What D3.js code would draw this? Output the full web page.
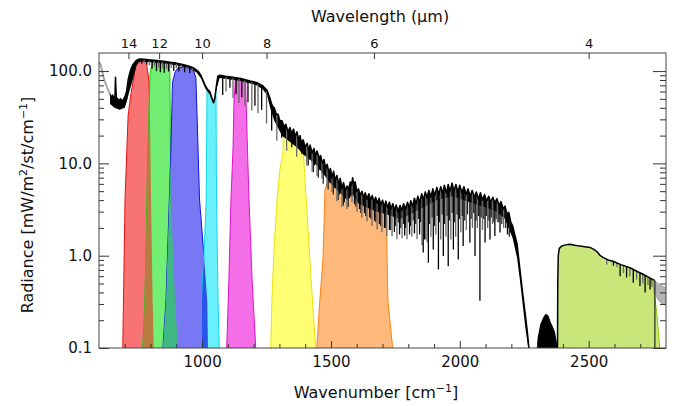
<!DOCTYPE html>
<html>
<head>
<meta charset="utf-8">
<script src="https://cdn.jsdelivr.net/npm/d3@7"></script>
<style>
  body { margin: 0; background: #fff; }
  svg text { font-family: "DejaVu Sans", sans-serif; fill: #111; }
</style>
</head>
<body>
<svg id="chart" width="679" height="406"></svg>
<script>
// spectrum, [wavenumber cm-1, radiance mW/m2/st/cm-1]
const specTop = [
  [643,56],[648,52],[653,55],[658,50],[662,54],[664,86],[667,52],[672,50],[678,48],[684,50],
  [690,47],[696,50],[702,54],[707,60],[713,80],[718,92],[724,105],[730,115],[736,122],[742,128],
  [750,133],[758,135],[775,134],[800,132],[825,130],[850,128],[875,125],[900,122],[925,118],[950,113],
  [965,109],[978,103],[988,97],[996,89],[1004,79],[1012,70],[1020,64],[1030,60],[1037,52],[1043,47],
  [1049,50],[1055,68],[1061,88],[1068,90],[1090,88],[1120,86],[1150,83],[1186,78],[1213,75],[1236,69],
  [1252,62],[1264,50],[1272,42],[1280,40],[1288,34],[1295,34],[1302,29],[1310,29],[1318,25],[1325,26.5],
  [1333,22],[1341,24.5],[1348,21],[1355,23.5],[1362,19.5],[1368,22],[1375,18],[1380,20],[1386,16.5],[1392,18],
  [1400,15],[1408,16.5],[1414,13.5],[1419,15.8],[1427,13],[1434,14.5],[1440,12],[1446,13.6],[1454,11.5],[1460,12.2],
  [1467,10],[1473,11],[1479,8.8],[1485,9.8],[1492,8.0],[1498,8.8],[1504,7.0],[1510,8.2],[1517,6.5],[1523,7.4],
  [1530,6.0],[1536,6.9],[1543,5.3],[1549,6.2],[1556,5.0],[1562,5.7],[1568,5.2],[1575,6.3],[1580,5.8],[1584,7.0],
  [1588,6.0],[1594,6.3],[1600,5.0],[1607,5.3],[1613,4.5],[1620,5.0],[1627,4.3],[1633,4.8],[1640,4.1],[1647,4.7],
  [1653,4.0],[1660,4.5],[1667,3.8],[1673,4.3],[1680,3.7],[1687,4.2],[1693,3.5],[1700,4.0],[1707,3.4],[1713,3.9],
  [1720,3.3],[1727,3.8],[1733,3.2],[1740,3.65],[1747,3.1],[1753,3.55],[1760,3.0],[1768,3.5],[1775,3.1],[1782,3.65],
  [1790,3.2],[1797,3.8],[1804,3.3],[1810,3.95],[1817,3.4],[1824,4.2],[1830,3.6],[1837,4.4],[1845,3.8],[1852,4.7],
  [1859,4.0],[1866,4.9],[1873,4.2],[1880,5.1],[1888,4.3],[1895,5.3],[1903,4.5],[1911,5.5],[1918,4.6],[1926,5.6],
  [1933,4.7],[1940,5.8],[1948,4.8],[1955,5.9],[1962,5.0],[1970,6.1],[1977,5.0],[1985,5.9],[1992,4.9],[2000,5.8],
  [2008,4.8],[2016,5.6],[2024,4.6],[2032,5.3],[2040,4.4],[2048,5.1],[2056,4.3],[2064,4.9],[2072,4.1],[2080,4.8],
  [2088,4.0],[2096,4.6],[2104,3.9],[2112,4.4],[2120,3.8],[2128,4.3],[2136,3.7],[2144,4.15],[2152,3.5],[2160,3.85],
  [2168,3.2],[2175,3.45],[2183,2.8],[2190,2.95],[2198,2.3],[2205,2.1],[2213,1.7],[2222,1.35],[2233,0.72],[2245,0.37],
  [2255,0.22],[2262,0.15],[2268,0.1],[2272,0.09],[2300,0.09],[2305,0.13],[2315,0.18],[2325,0.21],[2334,0.23],[2342,0.22],
  [2350,0.19],[2358,0.17],[2366,0.15],[2372,0.12],[2377,0.09],[2379,0.09],[2380,0.5],[2382,1.0],[2386,1.2],[2395,1.27],
  [2410,1.31],[2427,1.33],[2446,1.3],[2466,1.27],[2485,1.25],[2505,1.23],[2520,1.17],[2532,1.11],[2545,1.0],[2556,0.96],
  [2575,0.9],[2594,0.87],[2625,0.8],[2660,0.74],[2690,0.67],[2711,0.63],[2730,0.59],[2750,0.55],[2756,0.54]
]

// lower edge of the dense line band
const bandLow = [
  [643,44],[660,40],[680,38],[700,40],[709,48],[715,56],[722,66],[730,78],[738,95],[746,115],
  [755,125],[760,127],[800,125],[850,121],[900,116],[950,107],[978,97],[996,83],[1012,65],[1030,55],
  [1043,44],[1049,46],[1055,62],[1068,84],[1150,78],[1213,70],[1236,63],[1252,55],[1264,40],[1280,29],
  [1295,24],[1310,20],[1325,18.5],[1341,17],[1368,15],[1392,12.5],[1419,11],[1446,9.4],[1465,8.0],[1485,6.8],
  [1508,5.7],[1535,4.8],[1562,4.0],[1584,4.6],[1605,3.7],[1640,3.3],[1680,3.0],[1717,2.8],[1768,2.5],[1807,2.8],
  [1845,3.2],[1873,3.5],[1911,4.0],[1974,4.4],[2039,3.8],[2105,3.3],[2144,3.0],[2175,2.5],[2205,1.55],[2222,0.95],
  [2233,0.55],[2245,0.28],[2255,0.16],[2268,0.09],[2377,0.09]
]

// absorption lines: [wavenumber, lowest radiance]
const dipsWindow = [
  [765,120],[775,122],[785,118],[796,115],[806,106],[815,114],[823,100],[831,110],[838,97],[846,108],
  [853,96],[862,106],[870,99],[880,108],[890,100],[900,107],[910,99],[920,104],[932,97],[942,101],
  [952,95],[962,99]
]
const dipsMid = [
  [1080,55],[1093,60],[1108,66],[1120,51],[1132,56],[1143,45],[1154,52],[1166,41.5],[1178,46],[1193,37.5],
  [1205,42],[1217,35],[1231,38],[1250,27],[1270,22.7],[1290,17.6],[1309,19],[1328,13.7],[1348,15],[1367,11.8],
  [1387,12.7],[1406,9.9],[1425,10.5]
]
const dipsWater = [
  [1407,9.4],[1417,11],[1427,8.1],[1436,9.5],[1446,7.3],[1456,8.5],[1465,6.8],[1475,7.5],[1485,5.56],[1494,6.2],
  [1504,4.9],[1514,5.4],[1523,3.9],[1533,4.6],[1543,3.36],[1552,3.8],[1562,3.2],[1572,4.2],[1582,3.8],[1592,3.6],
  [1601,3.0],[1611,3.2],[1620,2.6],[1630,2.9],[1640,2.36],[1650,2.6],[1659,2.1],[1669,2.4],[1679,1.94],[1688,2.2],
  [1698,1.8],[1708,2.0],[1717,1.62],[1727,1.9],[1737,1.62],[1746,1.8],[1756,1.51],[1766,1.7],[1776,1.55],[1786,1.65],
  [1795,1.51],[1805,1.7],[1814,1.6],[1824,1.75],[1834,1.51],[1844,1.7],[1853,1.3],[1863,1.5],[1873,1.4],[1858,1.08],
  [1868,1.5],[1878,0.84],[1888,1.6],[1897,1.17],[1907,1.7],[1917,0.71],[1926,1.5],[1936,0.99],[1946,1.6],[1955,0.77],
  [1965,1.5],[1975,1.17],[1984,1.6],[1994,0.91],[2004,1.8],[2013,1.27],[2025,1.9],[2039,1.39],[2049,2.0],[2059,0.99],
  [2068,2.0],[2078,0.325],[2088,1.9],[2098,1.39],[2108,2.0],[2117,1.5],[2127,2.2],[2136,1.63],[2146,2.3],[2156,1.78],
  [2170,2.0],[2185,1.7]
]
// weaker lines that fill the band between the strong ones
const dipsWeak = [
  [1412,9.5],[1432,8.0],[1451,7.0],[1470,6.0],[1489,5.2],[1509,4.6],[1528,4.0],[1548,3.5],[1567,3.4],[1597,3.4],
  [1616,2.9],[1635,2.7],[1655,2.5],[1674,2.3],[1693,2.1],[1713,2.0],[1732,1.9],[1751,2.1],[1761,2.3],[1771,2.0],
  [1781,2.2],[1790,2.0],[1800,2.3],[1809,2.1],[1819,2.4],[1829,2.2],[1839,2.5],[1848,2.3],[1883,2.2],[1892,2.6],
  [1902,2.1],[1912,2.7],[1921,2.3],[1931,2.8],[1941,2.2],[1950,2.7],[1960,2.4],[1970,2.9],[1980,2.3],[1989,2.8],
  [1999,2.5],[2009,2.7],[2019,2.4],[2030,2.8],[2044,2.5],[2054,2.9],[2063,2.4],[2073,2.7],[2083,2.6],[2093,2.5],
  [2103,2.7],[2113,2.4],[2122,2.6],[2132,2.3],[2141,2.5],[2151,2.3],[2163,2.2],[2178,2.0],[2192,1.6]
]
const dipsShortwave = [
  [2570,0.8],[2596,0.78],[2610,0.75],[2622,0.6],[2635,0.65],[2647,0.58],[2660,0.6],[2673,0.51],[2686,0.55],[2699,0.47],
  [2710,0.5],[2719,0.4],[2730,0.48],[2738,0.43],[2745,0.46]
]

// out of band parts drawn in grey
const grayLeft = [[600,125],[606,118],[612,100],[618,85],[624,75],[630,68],[636,62],[643,56]]
const grayRightTop = [[2752,0.54],[2770,0.5],[2785,0.47],[2800,0.45]]
const grayRightLow = [[2752,0.42],[2770,0.33],[2785,0.3],[2800,0.29]]
const cutoffWn = 2757

// channel response outlines [wavenumber, radiance]
const chRed = [[692,0.09],[695,0.33],[701,4.1],[713,33],[724,57],[736,88],[745,140],[760,300],[780,300],[786,113],[794,78],[798,33],[802,4.1],[808,0.33],[813,0.09]]
const chGreen = [[769,0.09],[778,0.33],[786,4.1],[790,14.5],[798,95],[806,119],[810,300],[868,300],[872,119],[875,95],[877,14.5],[879,4.1],[895,0.33],[908,0.09]]
const chBlue = [[847,0.09],[860,0.33],[873,4.1],[879,14.5],[885,74],[895,97],[906,108],[934,111],[953,110],[968,100],[976,84],[982,24],[990,4.1],[1005,1.2],[1020,0.33],[1023,0.09]]
const chCyan = [[998,0.09],[999,0.33],[1010,1.5],[1016,4.1],[1019,60],[1023,300],[1052,300],[1054,57],[1056,4.1],[1062,0.33],[1067,0.09]]
const chMagenta = [[1095,0.09],[1104,0.55],[1112,4.1],[1120,14.5],[1124,51],[1128,69],[1132,300],[1166,300],[1170,57],[1176,14.5],[1182,4.1],[1194,0.55],[1209,0.09]]
const chYellow = [[1266,0.09],[1271,0.33],[1279,1.17],[1291,4.1],[1302,8.75],[1314,12.7],[1320,300],[1388,300],[1391,17],[1399,6.8],[1411,1.94],[1423,0.55],[1442,0.09]]
const chOrange = [[1444,0.09],[1457,0.33],[1469,0.91],[1477,5.3],[1496,7],[1500,300],[1712,300],[1714,3.6],[1721,0.33],[1741,0.09]]
const chLime = [[2379,0.09],[2379,0.9],[2381,1.17],[2389,1.3],[2404,1.38],[2410,300],[2745,300],[2750,0.49],[2765,0.23],[2777,0.09]]

const xMajor = [1000, 1500, 2000, 2500]
const xMinor = d3.range(700, 2800, 100).filter(d => !xMajor.includes(d))
const yMajor = [0.1, 1, 10, 100]
const yMinor = [0.2,0.3,0.4,0.5,0.6,0.7,0.8,0.9,2,3,4,5,6,7,8,9,20,30,40,50,60,70,80,90]
const wavelengths = [14, 12, 10, 8, 6, 4]

const channels = [
  {pts: chRed, fill: '#f87474', stroke: '#e81010'},
  {pts: chGreen, fill: '#73f073', stroke: '#10c810'},
  {pts: chBlue, fill: '#7878f5', stroke: '#1010e0'},
  {pts: chCyan, fill: '#6af0fa', stroke: '#10d8ea'},
  {pts: chMagenta, fill: '#f46ee8', stroke: '#e010c8'},
  {pts: chYellow, fill: '#ffff73', stroke: '#e8e010'},
  {pts: chOrange, fill: '#ffb97a', stroke: '#ff8010'},
  {pts: chLime, fill: '#c9e67a', stroke: '#90cc10'}
]
const overlaps = [
  [chRed, chGreen, '#b97c40'],
  [chGreen, chBlue, '#40b884'],
  [chBlue, chCyan, '#2a55e8']
]

const m = {left: 99, right: 666, top: 53, bottom: 348}
const svg = d3.select('#chart')
const defs = svg.append('defs')

const x = d3.scaleLinear().domain([600, 2800]).range([m.left, m.right])
const y = d3.scaleLog().domain([0.1, 157]).range([m.bottom, m.top])

const line = d3.line().x(d => x(d[0])).y(d => y(d[1]))

defs.append('clipPath').attr('id', 'plot')
  .append('rect')
  .attr('x', m.left).attr('y', m.top)
  .attr('width', m.right - m.left).attr('height', m.bottom - m.top)

// area under the spectrum, channels are cut to it
const underSpec = d3.area()
  .x(d => x(d[0])).y0(m.bottom + 5).y1(d => y(d[1]))
defs.append('clipPath').attr('id', 'spec')
  .append('path')
  .attr('d', underSpec(specTop.concat(grayRightTop)))

const plot = svg.append('g').attr('clip-path', 'url(#plot)')
const chLayer = plot.append('g').attr('clip-path', 'url(#spec)')

channels.forEach(c => {
  chLayer.append('path')
    .attr('d', line(c.pts) + 'Z')
    .attr('fill', c.fill)
    .attr('stroke', c.stroke)
    .attr('stroke-width', 1)
})

overlaps.forEach((o, i) => {
  defs.append('clipPath').attr('id', 'ov' + i)
    .append('path').attr('d', line(o[1]) + 'Z')
  chLayer.append('g').attr('clip-path', `url(#ov${i})`)
    .append('path')
    .attr('d', line(o[0]) + 'Z')
    .attr('fill', o[2])
})

// grey ends
plot.append('path')
  .attr('d', line(grayLeft))
  .attr('fill', 'none')
  .attr('stroke', '#a8a8a8')
  .attr('stroke-width', 2)

plot.append('path')
  .attr('d', line(grayRightTop.concat(grayRightLow.slice().reverse())) + 'Z')
  .attr('fill', '#b4b4b4')
  .attr('stroke', '#a0a0a0')
  .attr('stroke-width', 0.8)

// dense band of lines
const lo = bandLow[0][0], hi = bandLow[bandLow.length - 1][0]
const bandPoly = specTop.filter(d => d[0] >= lo && d[0] <= hi)
  .concat(bandLow.slice().reverse())
plot.append('path')
  .attr('d', line(bandPoly) + 'Z')
  .attr('fill', '#000')

// radiance of the upper envelope at a given wavenumber (log interpolation)
const bis = d3.bisector(d => d[0]).left
function topAt(wn) {
  const i = Math.max(1, Math.min(specTop.length - 1, bis(specTop, wn)))
  const a = specTop[i - 1], b = specTop[i]
  const t = (wn - a[0]) / (b[0] - a[0])
  return Math.exp(Math.log(a[1]) * (1 - t) + Math.log(b[1]) * t)
}

const dips = dipsWindow.concat(dipsMid, dipsWater, dipsShortwave)
const dipLayer = plot.append('g')
dipLayer.selectAll('line.weak')
  .data(dipsWeak)
  .join('line')
  .attr('class', 'weak')
  .attr('x1', d => x(d[0])).attr('x2', d => x(d[0]))
  .attr('y1', d => y(topAt(d[0])))
  .attr('y2', d => y(d[1]))
  .attr('stroke', '#1a1a1a')
  .attr('stroke-width', 1.2)
dipLayer.selectAll('line.strong')
  .data(dips)
  .join('line')
  .attr('class', 'strong')
  .attr('x1', d => x(d[0])).attr('x2', d => x(d[0]))
  .attr('y1', d => y(topAt(d[0])))
  .attr('y2', d => y(d[1]))
  .attr('stroke', (d, i) => i % 2 ? '#6a6a6a' : '#000')
  .attr('stroke-width', 1.3)

plot.append('path')
  .attr('d', line(specTop))
  .attr('fill', 'none')
  .attr('stroke', '#000')
  .attr('stroke-width', 1.5)
  .attr('stroke-linejoin', 'round')

plot.append('line')
  .attr('x1', x(cutoffWn)).attr('x2', x(cutoffWn))
  .attr('y1', y(0.54)).attr('y2', m.bottom)
  .attr('stroke', '#000').attr('stroke-width', 1)

// axes
function styleAxis(g) {
  g.select('.domain').remove()
  g.selectAll('.tick line').attr('stroke', '#333')
  g.selectAll('text').attr('fill', '#111')
}

svg.append('g')
  .attr('transform', `translate(0,${m.bottom})`)
  .call(d3.axisBottom(x).tickValues(xMinor).tickSize(-4).tickFormat(''))
  .call(styleAxis)
svg.append('g')
  .attr('transform', `translate(0,${m.bottom})`)
  .call(d3.axisBottom(x).tickValues(xMajor).tickSize(-7).tickPadding(8).tickFormat(d3.format('d')))
  .call(styleAxis)
  .selectAll('text').style('font-size', '15px')

svg.append('g')
  .attr('transform', `translate(0,${m.top})`)
  .call(d3.axisTop(x).tickValues(wavelengths.map(l => 1e4 / l)).tickSize(-6).tickPadding(5)
    .tickFormat((d, i) => wavelengths[i]))
  .call(styleAxis)
  .selectAll('text').style('font-size', '13px')

const yFmt = d => d < 1 ? '0.1' : d.toFixed(1)
svg.append('g')
  .attr('transform', `translate(${m.left},0)`)
  .call(d3.axisLeft(y).tickValues(yMinor).tickSize(-5).tickFormat(''))
  .call(styleAxis)
svg.append('g')
  .attr('transform', `translate(${m.left},0)`)
  .call(d3.axisLeft(y).tickValues(yMajor).tickSize(-10).tickPadding(7).tickFormat(yFmt))
  .call(styleAxis)
  .selectAll('text').style('font-size', '15px')
svg.append('g')
  .attr('transform', `translate(${m.right},0)`)
  .call(d3.axisRight(y).tickValues(yMinor).tickSize(-6).tickFormat(''))
  .call(styleAxis)
svg.append('g')
  .attr('transform', `translate(${m.right},0)`)
  .call(d3.axisRight(y).tickValues(yMajor).tickSize(-13).tickFormat(''))
  .call(styleAxis)

svg.append('rect')
  .attr('x', m.left).attr('y', m.top)
  .attr('width', m.right - m.left).attr('height', m.bottom - m.top)
  .attr('fill', 'none').attr('stroke', '#444').attr('stroke-width', 1)

// titles
svg.append('text')
  .attr('x', 380).attr('y', 22)
  .attr('text-anchor', 'middle')
  .style('font-size', '16px')
  .text('Wavelength (μm)')

const xt = svg.append('text')
  .attr('x', 376).attr('y', 398)
  .attr('text-anchor', 'middle')
  .style('font-size', '16px')
xt.append('tspan').text('Wavenumber [cm')
xt.append('tspan').attr('baseline-shift', 'super').style('font-size', '11px').text('−1')
xt.append('tspan').text(']')

const yt = svg.append('text')
  .attr('transform', 'translate(33,205) rotate(-90)')
  .attr('text-anchor', 'middle')
  .style('font-size', '16px')
yt.append('tspan').text('Radiance [mW/m')
yt.append('tspan').attr('baseline-shift', 'super').style('font-size', '11px').text('2')
yt.append('tspan').text('/st/cm')
yt.append('tspan').attr('baseline-shift', 'super').style('font-size', '11px').text('−1')
yt.append('tspan').text(']')
</script>
</body>
</html>
